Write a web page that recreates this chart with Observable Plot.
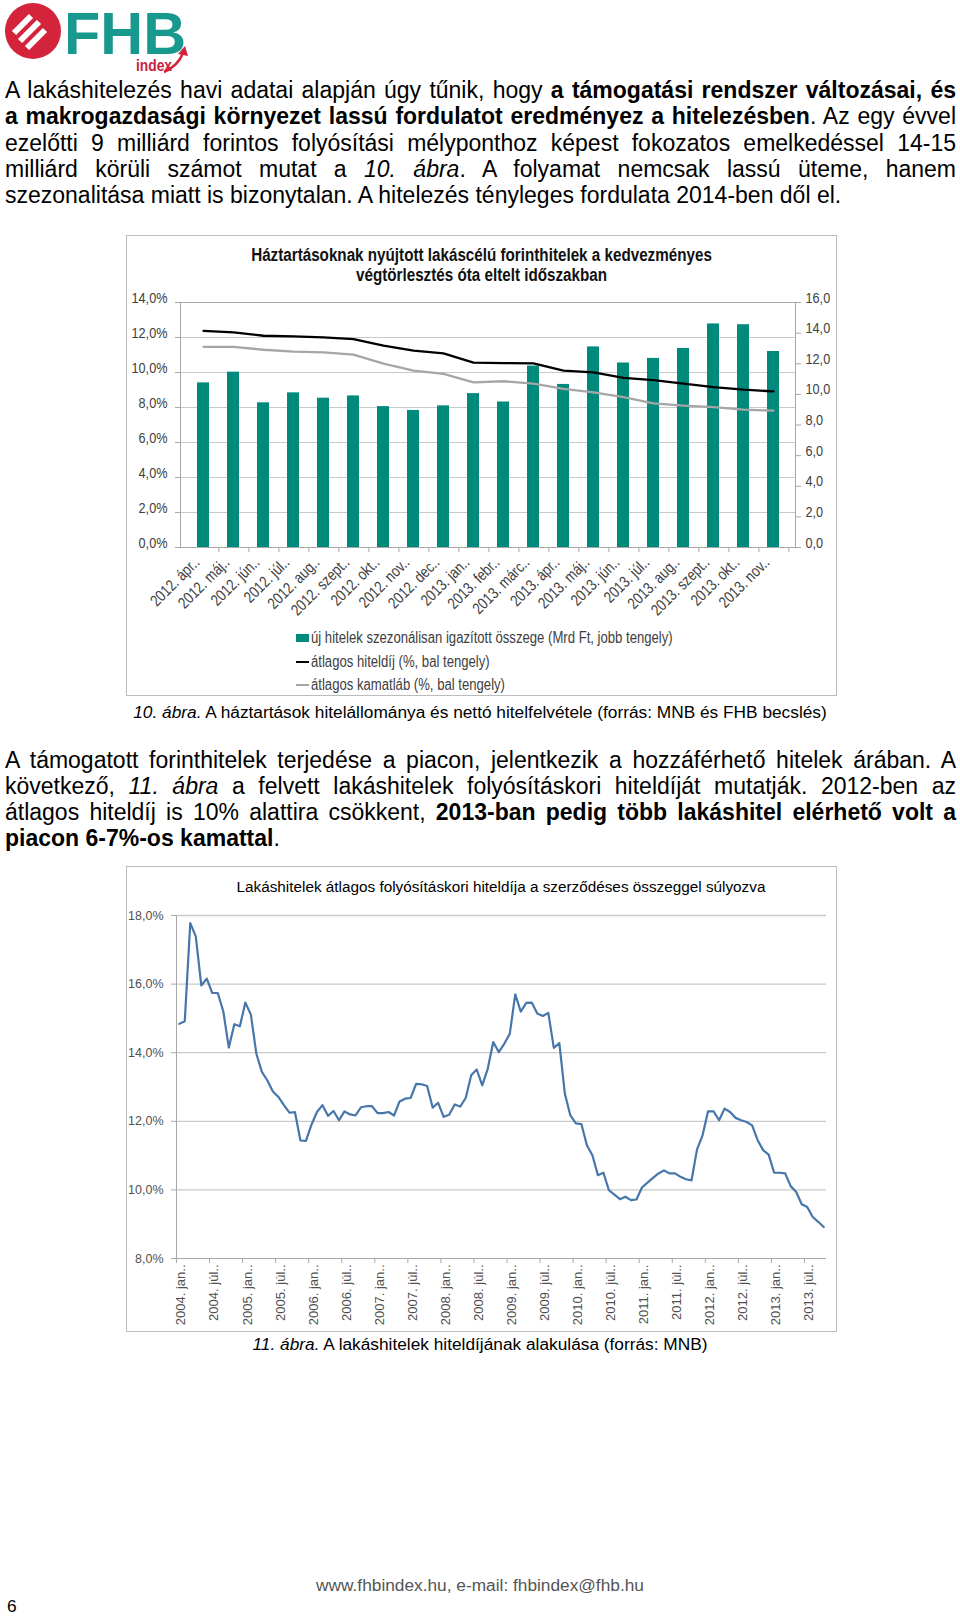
<!DOCTYPE html>
<html><head><meta charset="utf-8">
<script src="https://cdn.jsdelivr.net/npm/d3@7"></script>
<script src="https://cdn.jsdelivr.net/npm/@observablehq/plot@0.6"></script>
<style>
html,body{margin:0;padding:0;background:#fff;}
#page{position:relative;width:960px;height:1617px;overflow:hidden;font-family:"Liberation Sans",Arial,sans-serif;color:#000;}
.abs{position:absolute;}
.para{position:absolute;left:5px;width:951px;font-size:23px;line-height:26.3px;}
.para2{line-height:26px;}
.line{white-space:nowrap;}
.frame{position:absolute;box-sizing:border-box;border:1.5px solid #bcbcbc;}
.cap{position:absolute;left:0;width:960px;text-align:center;font-size:17.3px;line-height:20px;}
.leg{position:absolute;left:311px;font-size:16px;line-height:18px;color:#404040;white-space:nowrap;}
.sw{position:absolute;left:296px;}
</style></head><body><div id="page">

<svg class="abs" style="left:0;top:0" width="200" height="78">
  <circle cx="33" cy="31" r="28" fill="#d4243b"/>
  <g stroke="#fff" stroke-width="6">
    <line x1="14" y1="33" x2="31" y2="16"/>
    <line x1="20" y1="41" x2="39" y2="22"/>
    <line x1="27" y1="48" x2="45" y2="30"/>
  </g>
  <text x="64" y="54" font-family="Liberation Sans, Arial" font-weight="bold" font-size="60" fill="#17998d" textLength="122" lengthAdjust="spacingAndGlyphs">FHB</text>
  <text x="136" y="71" font-family="Liberation Sans, Arial" font-weight="bold" font-size="17" fill="#c8203e" textLength="36" lengthAdjust="spacingAndGlyphs">index</text>
  <path d="M164 72 Q 178 66 183 53" stroke="#d4243b" stroke-width="2.5" fill="none"/>
  <path d="M178 54 L185 46 L188 56 Z" fill="#d4243b"/>
</svg>

<div class="para" style="top:77px">
  <div class="line j"><span>A lakáshitelezés havi adatai alapján úgy tűnik, hogy <b>a támogatási rendszer változásai, és</b></span></div>
  <div class="line j"><span><b>a makrogazdasági környezet lassú fordulatot eredményez a hitelezésben</b>. Az egy évvel</span></div>
  <div class="line j"><span>ezelőtti 9 milliárd forintos folyósítási mélyponthoz képest fokozatos emelkedéssel 14-15</span></div>
  <div class="line j"><span>milliárd körüli számot mutat a <i>10. ábra</i>. A folyamat nemcsak lassú üteme, hanem</span></div>
  <div class="line"><span>szezonalitása miatt is bizonytalan. A hitelezés tényleges fordulata 2014-ben dől el.</span></div>
</div>

<div class="frame" style="left:126px;top:235px;width:711px;height:461px"></div>
<div class="abs narrow" data-scale="0.845" style="left:126px;top:245px;width:711px;text-align:center;font-weight:bold;font-size:18px;line-height:20px;color:#111">Háztartásoknak nyújtott lakáscélú forinthitelek a kedvezményes<br>végtörlesztés óta eltelt időszakban</div>
<div id="chart1" class="abs" style="left:126px;top:291px"></div>
<div id="sw1" class="sw" style="top:634px;width:13px;height:8px"></div>
<div id="sw2" class="sw" style="top:661px;width:13px;height:2px"></div>
<div id="sw3" class="sw" style="top:684px;width:13px;height:2px"></div>
<div class="leg narrow" data-origin="left" style="top:629px">új hitelek szezonálisan igazított összege (Mrd Ft, jobb tengely)</div>
<div class="leg narrow" data-origin="left" style="top:653px">átlagos hiteldíj (%, bal tengely)</div>
<div class="leg narrow" data-origin="left" style="top:676px">átlagos kamatláb (%, bal tengely)</div>
<div class="cap" style="top:702px"><i>10. ábra.</i> A háztartások hitelállománya és nettó hitelfelvétele (forrás: MNB és FHB becslés)</div>

<div class="para para2" style="top:747px">
  <div class="line j"><span>A támogatott forinthitelek terjedése a piacon, jelentkezik a hozzáférhető hitelek árában. A</span></div>
  <div class="line j"><span>következő, <i>11. ábra</i> a felvett lakáshitelek folyósításkori hiteldíját mutatják. 2012-ben az</span></div>
  <div class="line j"><span>átlagos hiteldíj is 10% alattira csökkent, <b>2013-ban pedig több lakáshitel elérhető volt a</b></span></div>
  <div class="line"><span><b>piacon 6-7%-os kamattal</b>.</span></div>
</div>

<div class="frame" style="left:126px;top:866px;width:711px;height:466px"></div>
<div class="abs" style="left:201px;top:877px;width:600px;text-align:center;font-size:15.3px;line-height:20px;color:#000">Lakáshitelek átlagos folyósításkori hiteldíja a szerződéses összeggel súlyozva</div>
<div id="chart2" class="abs" style="left:126px;top:900px"></div>
<div class="cap" style="top:1334px"><i>11. ábra.</i> A lakáshitelek hiteldíjának alakulása (forrás: MNB)</div>

<div class="cap" style="top:1575px;color:#555">www.fhbindex.hu, e-mail: fhbindex@fhb.hu</div>
<div class="abs" style="left:7px;top:1596px;font-size:17.3px;line-height:20px">6</div>

</div>
<script>
// ---------- Chart 1 data ----------
const months1 = ["2012. ápr..", "2012. máj..", "2012. jún..", "2012. júl..", "2012. aug..", "2012. szept..", "2012. okt..", "2012. nov..", "2012. dec..", "2013. jan..", "2013. febr..", "2013. márc..", "2013. ápr..", "2013. máj..", "2013. jún..", "2013. júl..", "2013. aug..", "2013. szept..", "2013. okt..", "2013. nov.."];
const newLoans = [10.75, 11.45, 9.45, 10.1, 9.75, 9.9, 9.2, 8.95, 9.25, 10.05, 9.5, 11.85, 10.65, 13.1, 12.05, 12.35, 13.0, 14.6, 14.55, 12.8];
const aprRate = [12.38, 12.29, 12.10, 12.06, 12.01, 11.91, 11.53, 11.25, 11.09, 10.56, 10.54, 10.52, 10.11, 10.01, 9.69, 9.57, 9.37, 9.16, 9.02, 8.92];
const interestRate = [11.47, 11.47, 11.30, 11.19, 11.15, 11.02, 10.51, 10.11, 9.92, 9.44, 9.50, 9.37, 9.06, 8.87, 8.59, 8.24, 8.11, 8.02, 7.88, 7.82];
const leftTicks1 = [0, 2, 4, 6, 8, 10, 12, 14];
const rightTicks1 = [0, 2, 4, 6, 8, 10, 12, 14, 16];

// ---------- Chart 2 data ----------
const monthlyRate2 = [
  14.84, 14.92, 17.78, 17.39, 15.96, 16.16, 15.74, 15.74, 15.20, 14.15,
  14.83, 14.77, 15.46, 15.11, 13.97, 13.44, 13.19, 12.87, 12.71, 12.47,
  12.25, 12.27, 11.44, 11.43, 11.90, 12.27, 12.47, 12.16, 12.30, 12.03,
  12.29, 12.20, 12.17, 12.41, 12.44, 12.44, 12.24, 12.24, 12.27, 12.17,
  12.58, 12.66, 12.68, 13.09, 13.08, 13.03, 12.40, 12.54, 12.13, 12.19,
  12.49, 12.43, 12.68, 13.34, 13.51, 13.05, 13.53, 14.31, 14.02, 14.26,
  14.55, 15.70, 15.20, 15.45, 15.46, 15.14, 15.07, 15.16, 14.14, 14.28,
  12.81, 12.17, 11.94, 11.92, 11.30, 11.01, 10.43, 10.50, 9.99, 9.86,
  9.73, 9.80, 9.70, 9.72, 10.07, 10.21, 10.35, 10.48, 10.57, 10.48,
  10.48, 10.38, 10.31, 10.28, 11.18, 11.59, 12.29, 12.29, 12.03, 12.37,
  12.27, 12.10, 12.03, 11.98, 11.88, 11.45, 11.16, 11.03, 10.50, 10.50,
  10.48, 10.11, 9.94, 9.58, 9.50, 9.21, 9.07, 8.92
];
const tickLabels2 = ["2004. jan..", "2004. júl..", "2005. jan..", "2005. júl..", "2006. jan..", "2006. júl..", "2007. jan..", "2007. júl..", "2008. jan..", "2008. júl..", "2009. jan..", "2009. júl..", "2010. jan..", "2010. júl..", "2011. jan..", "2011. júl..", "2012. jan..", "2012. júl..", "2013. jan..", "2013. júl.."];
const yTicks2 = [8, 10, 12, 14, 16, 18];
const labelEvery2 = 6;

// ---------- styles ----------
const TEAL = "#008a7c", GREY_LINE = "#a6a6a6", BLUE = "#4676aa", AX = "#a8a8a8", GRID = "#c9c9c9", TXT = "#404040";

function detectNarrow() {
  const ctx = document.createElement("canvas").getContext("2d");
  const s = "Háztartásoknak nyújtott lakáscélú forinthitelek";
  ctx.font = "20px 'Liberation Sans'"; const base = ctx.measureText(s).width;
  for (const f of ["Liberation Sans Narrow", "Arial Narrow"]) {
    ctx.font = `20px '${f}', 'Liberation Sans'`;
    if (ctx.measureText(s).width < base * 0.9) return f;
  }
  return null;
}
const NF = detectNarrow();
const NARROW = NF ? `'${NF}', 'Liberation Sans', Arial, sans-serif` : `'Liberation Sans', Arial, sans-serif`;
document.querySelectorAll(".narrow").forEach(el => {
  el.style.fontFamily = NARROW;
  if (!NF) {
    el.style.transform = `scaleX(${el.dataset.scale || 0.82})`;
    el.style.transformOrigin = el.dataset.origin === "left" ? "left center" : "center center";
  }
});
function condense(svg) {
  if (NF) return;
  svg.querySelectorAll("text").forEach(t => {
    const x = +t.getAttribute("x") || 0, y = +t.getAttribute("y") || 0;
    const tr = t.getAttribute("transform") || "";
    t.removeAttribute("x"); t.removeAttribute("y");
    t.setAttribute("transform", `${tr} translate(${x},${y}) scale(0.82,1)`);
  });
}

const pct = d => d.toFixed(1).replace(".", ",") + "%";
const num = d => d.toFixed(1).replace(".", ",");

document.getElementById("sw1").style.background = TEAL;
document.getElementById("sw2").style.background = "#000";
document.getElementById("sw3").style.background = GREY_LINE;

// ---------- Chart 1 ----------
const LEFT_MAX = leftTicks1[leftTicks1.length - 1], RIGHT_MAX = rightTicks1[rightTicks1.length - 1];
const K = LEFT_MAX / RIGHT_MAX;
const data1 = months1.map((m, i) => ({month: m, loans: newLoans[i], apr: aprRate[i], rate: interestRate[i]}));
const W1 = 711, ML1 = 54, MR1 = 42;
const step1 = (W1 - ML1 - MR1) / months1.length;
const plot1 = Plot.plot({
  width: W1, height: 316, marginLeft: ML1, marginRight: MR1, marginTop: 11, marginBottom: 60,
  style: {fontFamily: NARROW, fontSize: "15.5px", color: TXT, background: "transparent", overflow: "visible"},
  x: {type: "band", domain: months1, paddingInner: 0.6, paddingOuter: 0.3, axis: null, label: null},
  y: {domain: [0, LEFT_MAX], axis: null, label: null},
  marks: [
    Plot.gridY(leftTicks1, {stroke: GRID, strokeOpacity: 1}),
    Plot.barY(data1, {x: "month", y: d => d.loans * K, fill: TEAL}),
    Plot.lineY(data1, {x: "month", y: "rate", stroke: GREY_LINE, strokeWidth: 2.3}),
    Plot.lineY(data1, {x: "month", y: "apr", stroke: "#000", strokeWidth: 2.3}),
    Plot.frame({stroke: AX}),
    Plot.axisY(leftTicks1, {anchor: "left", label: null, tickSize: 5, tickPadding: 8, tickFormat: pct, stroke: AX, fill: TXT}),
    Plot.axisY(rightTicks1.map(t => t * K), {anchor: "right", label: null, tickSize: 5, tickPadding: 5, tickFormat: d => num(d / K), stroke: AX, fill: TXT}),
    Plot.axisX(months1, {label: null, tickSize: 5, tickFormat: () => "", dx: step1 / 2, stroke: AX}),
    Plot.axisX(months1, {label: null, tickSize: 0, tickPadding: 16, tickRotate: -45, dx: -3, fontSize: 16, fill: TXT})
  ]
});
condense(plot1);
document.getElementById("chart1").appendChild(plot1);

// ---------- Chart 2 ----------
const n2 = monthlyRate2.length;
const data2 = monthlyRate2.map((v, i) => ({i, v}));
const labelIdx2 = tickLabels2.map((_, k) => k * labelEvery2);
const plot2 = Plot.plot({
  width: 711, height: 430, marginLeft: 50, marginRight: 11, marginTop: 15, marginBottom: 72,
  style: {fontFamily: "'Liberation Sans', Arial, sans-serif", fontSize: "12.5px", color: "#505050", background: "transparent", overflow: "visible"},
  x: {type: "linear", domain: [-0.5, n2 - 0.5], axis: null, label: null},
  y: {domain: [yTicks2[0], yTicks2[yTicks2.length - 1]], axis: null, label: null},
  marks: [
    Plot.gridY(yTicks2.slice(1), {stroke: GRID, strokeOpacity: 1, strokeWidth: 1.3}),
    Plot.ruleX([-0.5], {stroke: AX}),
    Plot.ruleY([yTicks2[0]], {stroke: AX}),
    Plot.lineY(data2, {x: "i", y: "v", stroke: BLUE, strokeWidth: 2.2}),
    Plot.axisY(yTicks2, {anchor: "left", label: null, tickSize: 5, tickPadding: 8, tickFormat: pct, stroke: AX, fill: "#505050"}),
    Plot.axisX(labelIdx2.map(i => i - 0.5), {label: null, tickSize: 5, tickFormat: () => "", stroke: AX}),
    Plot.axisX(labelIdx2, {label: null, tickSize: 0, tickPadding: 6, tickRotate: -90, dx: 2, fontSize: 13, tickFormat: i => tickLabels2[i / labelEvery2], fill: "#505050"})
  ]
});
document.getElementById("chart2").appendChild(plot2);

// ---------- justify text lines ----------
document.querySelectorAll(".line.j").forEach(div => {
  const span = div.firstElementChild;
  const w = span.getBoundingClientRect().width;
  const n = (div.textContent.match(/ /g) || []).length;
  if (n) div.style.wordSpacing = ((951 - w) / n) + "px";
});
</script>
</body></html>
